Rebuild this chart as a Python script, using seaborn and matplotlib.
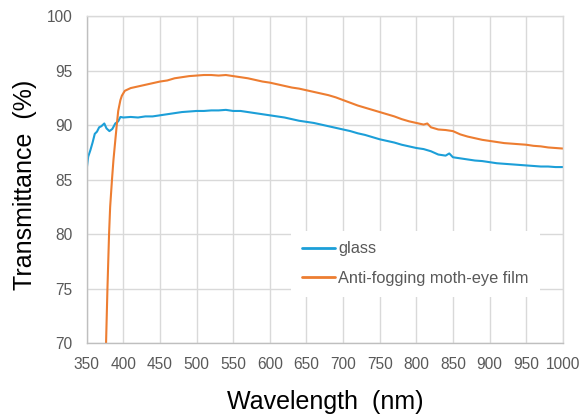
import numpy as np
import pandas as pd
import matplotlib
matplotlib.use("Agg")
import matplotlib.pyplot as plt
import seaborn as sns

glass_wl = [350, 352, 355, 358, 361, 364, 367, 370, 374, 377, 381, 385, 389, 393, 396,
            400, 410, 420, 430, 440, 450, 460, 470, 480, 490, 500, 510, 520, 530, 540,
            550, 560, 570, 580, 590, 600, 610, 620, 630, 640, 650, 660, 670, 680, 690,
            700, 710, 720, 730, 740, 750, 760, 770, 780, 790, 800, 810, 820, 830, 840,
            845, 850, 860, 870, 880, 890, 900, 910, 920, 930, 940, 950, 960, 970, 980,
            990, 1000]
glass_t = [86.0, 87.1, 87.7, 88.4, 89.2, 89.4, 89.8, 89.9, 90.15, 89.7, 89.45, 89.65, 90.15, 90.35, 90.75,
           90.7, 90.75, 90.7, 90.8, 90.8, 90.9, 91.0, 91.1, 91.2, 91.25, 91.3, 91.3, 91.35, 91.35, 91.4,
           91.3, 91.3, 91.2, 91.1, 91.0, 90.9, 90.8, 90.7, 90.55, 90.4, 90.3, 90.2, 90.05, 89.9, 89.75,
           89.6, 89.45, 89.25, 89.1, 88.9, 88.7, 88.55, 88.4, 88.2, 88.05, 87.9, 87.8, 87.6, 87.3, 87.2,
           87.4, 87.05, 86.95, 86.85, 86.75, 86.7, 86.6, 86.5, 86.45, 86.4, 86.35, 86.3, 86.25, 86.2, 86.2,
           86.15, 86.15]

film_wl = [370, 374, 376.4, 378.3, 380.5, 382, 384.5, 386.5, 388.6, 391, 393, 396, 398, 402,
           410, 420, 430, 440, 450, 460, 470, 480, 490, 500, 510, 520, 530, 540, 550, 560,
           570, 580, 590, 600, 610, 620, 630, 640, 650, 660, 670, 680, 690, 700, 710, 720,
           730, 740, 750, 760, 770, 780, 790, 800, 810, 815, 820, 825, 830, 840, 850, 860,
           870, 880, 890, 900, 910, 920, 930, 940, 950, 960, 970, 980, 990, 1000]
film_t = [58, 65, 70, 75, 80, 82.5, 85, 86.8, 88.3, 90.0, 91.3, 92.3, 92.7, 93.15,
          93.4, 93.55, 93.7, 93.85, 94.0, 94.1, 94.3, 94.4, 94.5, 94.55, 94.6, 94.6, 94.55, 94.6, 94.5, 94.4,
          94.3, 94.15, 94.0, 93.9, 93.75, 93.6, 93.45, 93.35, 93.2, 93.05, 92.9, 92.75, 92.55, 92.3, 92.05, 91.8,
          91.6, 91.4, 91.2, 91.0, 90.8, 90.55, 90.35, 90.2, 90.05, 90.15, 89.8, 89.7, 89.6, 89.55, 89.45, 89.15,
          88.95, 88.8, 88.65, 88.55, 88.45, 88.35, 88.3, 88.25, 88.2, 88.1, 88.05, 87.95, 87.9, 87.85]

series_names = ["glass", "Anti-fogging moth-eye film"]
colors = ["#1c9fd8", "#ed7d31"]
x_ticks = list(range(350, 1001, 50))
y_ticks = list(range(70, 101, 5))

df = pd.concat([
    pd.DataFrame({"wl": glass_wl, "T": glass_t, "s": series_names[0]}),
    pd.DataFrame({"wl": film_wl, "T": film_t, "s": series_names[1]}),
])

sns.set_theme(style="white")
plt.rcParams["font.family"] = ["Liberation Sans", "DejaVu Sans"]

fig = plt.figure(figsize=(5.82, 4.15), dpi=100)
ax = fig.add_axes([0.149, 0.1735, 0.818, 0.7875])

sns.lineplot(data=df, x="wl", y="T", hue="s", hue_order=series_names,
             palette=colors, estimator=None, linewidth=1.5, ax=ax)

ax.set_xlim(350, 1000)
ax.set_ylim(70, 100)
ax.set_xticks(x_ticks)
ax.set_yticks(y_ticks)
ax.grid(True, color="#d9d9d9", linewidth=1.0)
ax.set_axisbelow(True)
for side in ["top", "right"]:
    ax.spines[side].set_color("#d9d9d9")
    ax.spines[side].set_linewidth(1.0)
for side in ["left", "bottom"]:
    ax.spines[side].set_color("#bfbfbf")
    ax.spines[side].set_linewidth(1.0)
ax.tick_params(axis="both", length=0, pad=10, labelsize=11.2, labelcolor="#595959")

ax.set_xlabel("Wavelength  (nm)", fontsize=18, color="black", labelpad=13)
ax.set_ylabel("Transmittance  (%)", fontsize=18, color="black", labelpad=8)
ax.yaxis.set_label_coords(-0.105, 0.483)

leg = ax.legend(loc="center", bbox_to_anchor=(0.69, 0.243), frameon=True,
                fancybox=False, framealpha=1, facecolor="white", edgecolor="none",
                fontsize=11.8, handlelength=2.07, handletextpad=0.18,
                labelspacing=0.89, borderpad=0.65, borderaxespad=0)
for t in leg.get_texts():
    t.set_color("#595959")
for l in leg.get_lines():
    l.set_linewidth(2)

fig.savefig("out.png", dpi=100)
